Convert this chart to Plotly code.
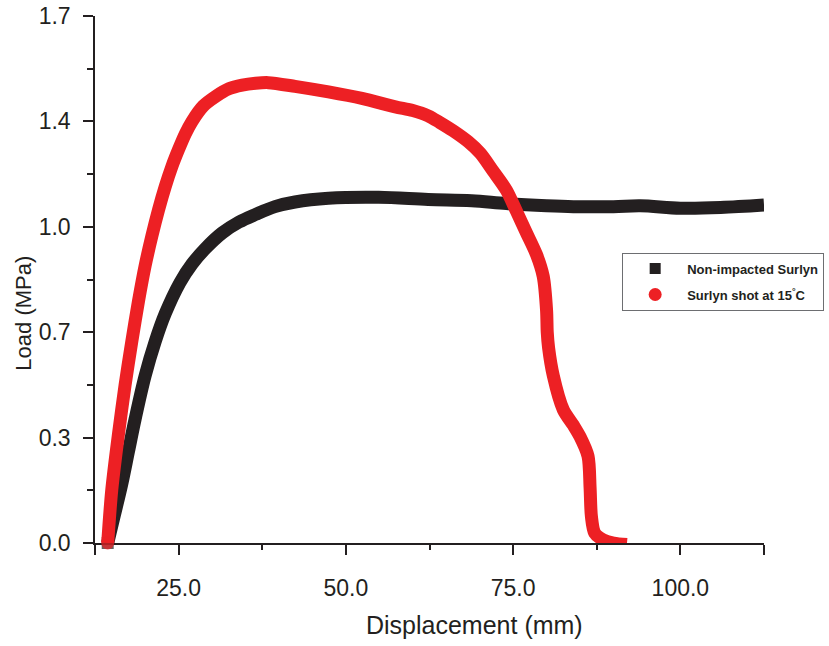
import plotly.graph_objects as go

# ---- data ----
black_name = "Non-impacted Surlyn"
black_x = [14.4, 15.4, 16.5, 17.5, 18.5, 20.0, 21.5, 23.0, 25.2, 27.0, 29.0, 31.5, 34.0, 36.5,
           39.4, 42.4, 47.4, 54.9, 62.3, 68.8, 74.0, 80.0, 84.0, 90.0, 94.0, 100.0, 106.0, 112.5]
black_y = [0.0, 0.09, 0.19, 0.295, 0.40, 0.54, 0.65, 0.74, 0.84, 0.90, 0.95, 1.00, 1.035, 1.06,
           1.085, 1.10, 1.112, 1.115, 1.108, 1.104, 1.095, 1.088, 1.085, 1.085, 1.088, 1.08, 1.082, 1.09]

red_name = "Surlyn shot at 15<sup>°</sup>C"
red_x = [14.4, 15.0, 16.0, 17.0, 18.0, 19.0, 20.0, 21.0, 22.0, 23.0, 24.0, 25.0, 26.0, 27.0,
         28.7, 30.5, 32.5, 34.5, 36.5, 38.4, 42.4, 47.4, 52.4, 57.4, 60.0, 62.3, 64.0, 66.0, 68.3,
         70.1, 72.0, 74.0, 75.5, 77.0, 78.5, 79.5, 80.0, 80.1, 80.3, 81.0, 82.5, 84.0, 85.0, 86.2,
         86.5, 86.7, 87.2, 88.5, 90.0, 92.0]
red_y = [0.0, 0.17, 0.35, 0.51, 0.65, 0.78, 0.895, 0.99, 1.075, 1.15, 1.215, 1.27, 1.32, 1.36,
         1.41, 1.44, 1.465, 1.477, 1.483, 1.485, 1.473, 1.455, 1.434, 1.407, 1.395, 1.378, 1.357,
         1.33, 1.294, 1.257, 1.20, 1.138, 1.07, 1.0, 0.93, 0.86, 0.75, 0.68, 0.63, 0.54, 0.43,
         0.38, 0.343, 0.28, 0.18, 0.086, 0.032, 0.01, 0.0, -0.005]

x_tickvals = [12.5, 25.0, 50.0, 75.0, 100.0, 112.5]
x_ticktext = ["", "25.0", "50.0", "75.0", "100.0", ""]
x_minor = [37.5, 62.5, 87.5]
y_tickvals = [0.0, 0.34, 0.68, 1.02, 1.36, 1.70]
y_ticktext = ["0.0", "0.3", "0.7", "1.0", "1.4", "1.7"]
y_minor = [0.17, 0.51, 0.85, 1.19, 1.53]

BLACK = "#231f20"
RED = "#ed2024"
AX = "#231f20"


def end_sizes(n, size, first=True, last=True):
    s = [0] * n
    if first:
        s[0] = size
    if last:
        s[-1] = size
    return s


fig = go.Figure()
fig.add_trace(go.Scatter(x=black_x, y=black_y, mode="lines+markers",
                         line=dict(color=BLACK, width=13, shape="spline", smoothing=1.0),
                         marker=dict(symbol="square", size=end_sizes(len(black_x), 12, last=False),
                                     color=BLACK, line=dict(width=0)),
                         cliponaxis=False, showlegend=False))
fig.add_trace(go.Scatter(x=red_x, y=red_y, mode="lines+markers",
                         line=dict(color=RED, width=13, shape="spline", smoothing=0.8),
                         marker=dict(symbol="circle", size=end_sizes(len(red_x), 13),
                                     color=RED, line=dict(width=0)),
                         cliponaxis=False, showlegend=False))
# legend entries
fig.add_trace(go.Scatter(x=[None], y=[None], mode="markers", name=black_name,
                         marker=dict(symbol="square", size=11, color=BLACK), legendgroup="a"))
fig.add_trace(go.Scatter(x=[None], y=[None], mode="markers", name=red_name,
                         marker=dict(symbol="circle", size=13, color=RED), legendgroup="b"))

fig.update_xaxes(range=[12.5, 112.5], showline=True, linecolor=AX, linewidth=1.5,
                 ticks="outside", ticklen=10, tickwidth=1.5, tickcolor=AX,
                 tickmode="array", tickvals=x_tickvals, ticktext=x_ticktext,
                 tickfont=dict(family="Arial", size=23, color=BLACK),
                 ticklabelstandoff=14,
                 minor=dict(tickmode="array", tickvals=x_minor, ticks="outside", ticklen=5,
                            tickwidth=1.5, tickcolor=AX, showgrid=False),
                 showgrid=False, zeroline=False, layer="below traces")
fig.update_yaxes(range=[0, 1.7], showline=True, linecolor=AX, linewidth=1.5,
                 ticks="outside", ticklen=10, tickwidth=1.5, tickcolor=AX,
                 tickmode="array", tickvals=y_tickvals, ticktext=y_ticktext,
                 tickfont=dict(family="Arial", size=23, color=BLACK),
                 ticklabelstandoff=8,
                 minor=dict(tickmode="array", tickvals=y_minor, ticks="outside", ticklen=6,
                            tickwidth=1.5, tickcolor=AX, showgrid=False),
                 showgrid=False, zeroline=False, layer="below traces")

fig.add_annotation(text="Displacement (mm)", xref="paper", yref="paper", x=0.568, y=-0.155,
                   showarrow=False, font=dict(family="Arial", size=25, color=BLACK),
                   xanchor="center", yanchor="middle")
fig.add_annotation(text="Load (MPa)", xref="paper", yref="paper", x=-0.107, y=0.436,
                   textangle=-90, showarrow=False,
                   font=dict(family="Arial", size=22, color=BLACK),
                   xanchor="center", yanchor="middle")

fig.update_layout(
    width=829, height=646,
    margin=dict(l=95, r=65, t=16, b=103, autoexpand=False),
    plot_bgcolor="white", paper_bgcolor="white",
    legend=dict(x=0.788, y=0.551, xanchor="left", yanchor="top",
                bgcolor="white", bordercolor="#6d6e71", borderwidth=1,
                font=dict(family="Arial", size=13, color=BLACK, weight="bold"),
                itemwidth=54, tracegroupgap=6, traceorder="grouped"),
)

fig.write_html("out.html")
